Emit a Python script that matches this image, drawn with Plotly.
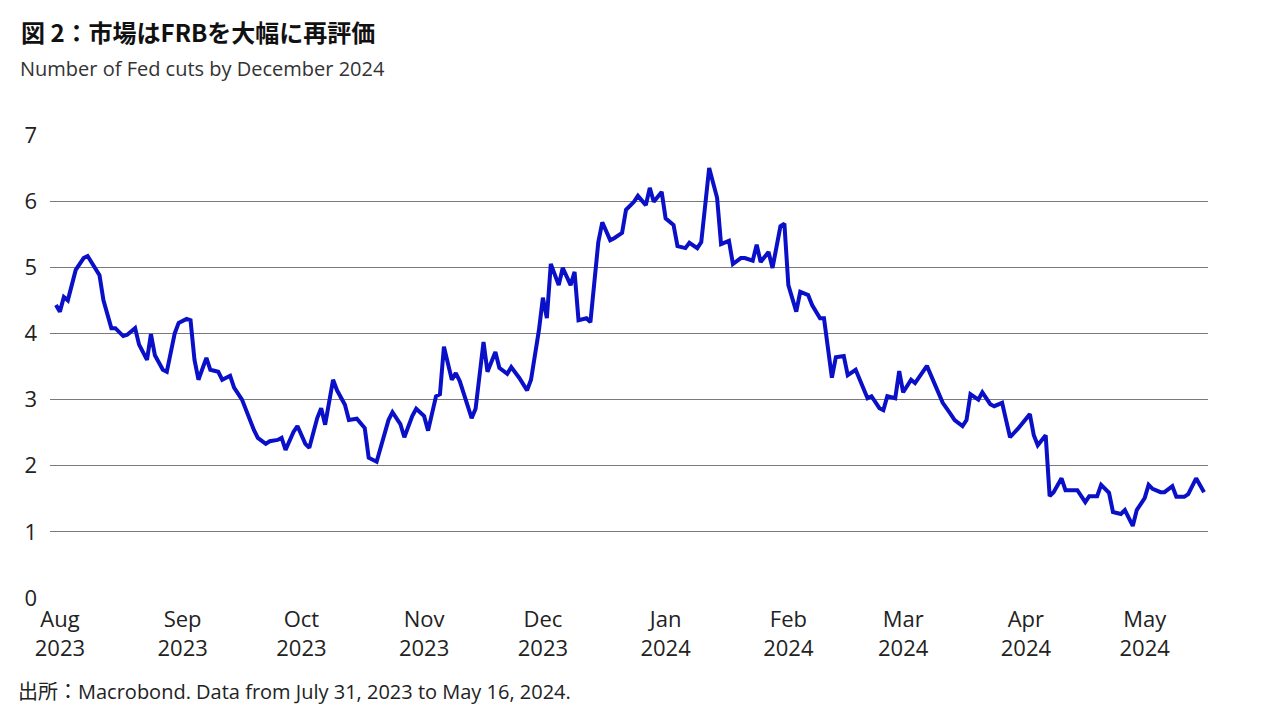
import plotly.graph_objects as go

dates = ["2023-07-31","2023-08-01","2023-08-02","2023-08-03","2023-08-05","2023-08-07","2023-08-08","2023-08-10","2023-08-11","2023-08-12",
"2023-08-14","2023-08-15","2023-08-17","2023-08-18","2023-08-20","2023-08-21","2023-08-23","2023-08-24","2023-08-25","2023-08-27",
"2023-08-28","2023-08-30","2023-08-31","2023-09-02","2023-09-03","2023-09-04","2023-09-05","2023-09-07","2023-09-08","2023-09-10",
"2023-09-11","2023-09-13","2023-09-14","2023-09-16","2023-09-17","2023-09-19","2023-09-20","2023-09-22","2023-09-23","2023-09-25",
"2023-09-26","2023-09-27","2023-09-29","2023-09-30","2023-10-02","2023-10-03","2023-10-05","2023-10-06","2023-10-07","2023-10-09",
"2023-10-10","2023-10-12","2023-10-13","2023-10-15","2023-10-17","2023-10-18","2023-10-20","2023-10-21","2023-10-23","2023-10-24",
"2023-10-26","2023-10-27","2023-10-29","2023-10-30","2023-11-01","2023-11-02","2023-11-04","2023-11-05","2023-11-06","2023-11-08",
"2023-11-09","2023-11-10","2023-11-12","2023-11-13","2023-11-14","2023-11-16","2023-11-17","2023-11-19","2023-11-20","2023-11-22",
"2023-11-23","2023-11-25","2023-11-27","2023-11-28","2023-11-30","2023-12-01","2023-12-02","2023-12-03","2023-12-05","2023-12-06",
"2023-12-08","2023-12-09","2023-12-10","2023-12-12","2023-12-13","2023-12-15","2023-12-16","2023-12-18","2023-12-19","2023-12-21",
"2023-12-22","2023-12-24","2023-12-25","2023-12-27","2023-12-28","2023-12-29","2023-12-31","2024-01-01","2024-01-03","2024-01-04",
"2024-01-06","2024-01-07","2024-01-09","2024-01-10","2024-01-11","2024-01-12","2024-01-14","2024-01-15","2024-01-17","2024-01-18",
"2024-01-20","2024-01-21","2024-01-23","2024-01-24","2024-01-25","2024-01-27","2024-01-28","2024-01-30","2024-01-31","2024-02-01",
"2024-02-03","2024-02-04","2024-02-06","2024-02-07","2024-02-09","2024-02-10","2024-02-12","2024-02-13","2024-02-15","2024-02-16",
"2024-02-18","2024-02-19","2024-02-21","2024-02-22","2024-02-24","2024-02-25","2024-02-26","2024-02-28","2024-02-29","2024-03-01",
"2024-03-03","2024-03-04","2024-03-06","2024-03-07","2024-03-08","2024-03-10","2024-03-11","2024-03-13","2024-03-14","2024-03-16",
"2024-03-17","2024-03-18","2024-03-20","2024-03-21","2024-03-23","2024-03-24","2024-03-26","2024-03-27","2024-03-28","2024-03-30",
"2024-03-31","2024-04-02","2024-04-03","2024-04-04","2024-04-06","2024-04-07","2024-04-08","2024-04-10","2024-04-11","2024-04-13",
"2024-04-14","2024-04-16","2024-04-17","2024-04-19","2024-04-20","2024-04-22","2024-04-23","2024-04-25","2024-04-26","2024-04-28",
"2024-04-29","2024-05-01","2024-05-02","2024-05-03","2024-05-05","2024-05-06","2024-05-08","2024-05-09","2024-05-11","2024-05-12",
"2024-05-14","2024-05-16"]

cuts = [4.43,4.33,4.55,4.50,4.96,5.14,5.17,4.99,4.88,4.50,
4.08,4.08,3.96,3.98,4.08,3.83,3.60,3.99,3.67,3.45,
3.42,4.00,4.16,4.22,4.20,3.60,3.30,3.63,3.45,3.42,
3.30,3.36,3.18,3.00,2.84,2.54,2.42,2.33,2.37,2.39,
2.42,2.24,2.51,2.60,2.33,2.27,2.72,2.87,2.62,3.30,
3.14,2.92,2.69,2.71,2.57,2.12,2.06,2.27,2.69,2.81,
2.63,2.43,2.75,2.86,2.75,2.53,3.05,3.08,3.80,3.30,
3.40,3.28,2.92,2.72,2.86,3.87,3.42,3.72,3.48,3.39,
3.49,3.33,3.14,3.30,4.05,4.54,4.23,5.05,4.73,4.99,
4.73,4.93,4.20,4.23,4.17,5.38,5.68,5.41,5.44,5.52,
5.87,5.99,6.08,5.94,6.20,5.99,6.14,5.74,5.64,5.32,
5.29,5.37,5.29,5.38,5.94,6.50,6.05,5.35,5.40,5.05,
5.14,5.14,5.10,5.34,5.08,5.23,4.99,5.62,5.66,4.73,
4.33,4.63,4.58,4.43,4.23,4.23,3.33,3.64,3.66,3.37,
3.45,3.30,3.02,3.05,2.87,2.84,3.05,3.02,3.43,3.11,
3.30,3.25,3.42,3.51,3.37,3.10,2.95,2.78,2.69,2.60,
2.69,3.08,3.00,3.11,2.93,2.90,2.95,2.69,2.43,2.56,
2.63,2.78,2.46,2.31,2.46,1.54,1.60,1.81,1.63,1.63,
1.63,1.45,1.54,1.54,1.71,1.59,1.30,1.27,1.33,1.09,
1.33,1.51,1.71,1.65,1.60,1.60,1.69,1.53,1.53,1.57,
1.81,1.60]

tick_vals = ["2023-08-01","2023-09-01","2023-10-01","2023-11-01","2023-12-01","2024-01-01",
             "2024-02-01","2024-03-01","2024-04-01","2024-05-01"]
tick_text = ["Aug<br>2023","Sep<br>2023","Oct<br>2023","Nov<br>2023","Dec<br>2023","Jan<br>2024",
             "Feb<br>2024","Mar<br>2024","Apr<br>2024","May<br>2024"]

FONT = "Open Sans, Noto Sans CJK JP, sans-serif"
fig = go.Figure(go.Scatter(x=dates, y=cuts, mode="lines",
                           line=dict(color="#0a0fc8", width=4), hoverinfo="x+y"))
fig.update_layout(
    width=1280, height=720, paper_bgcolor="white", plot_bgcolor="white",
    margin=dict(l=42, r=80, t=127, b=130), showlegend=False,
    font=dict(family=FONT, color="#222", size=22),
    xaxis=dict(range=["2023-07-29 12:00", "2024-05-17"], tickvals=tick_vals, ticktext=tick_text,
               showgrid=False, showline=False, ticks="", tickfont=dict(size=22),
               ticklabelstandoff=6),
    yaxis=dict(range=[0, 7], dtick=1, showgrid=True, gridcolor="#7a7a7a", gridwidth=1.3,
               zeroline=False, showline=False, ticks="", tickfont=dict(size=22),
               ticklabelstandoff=12),
    shapes=[dict(type="line", xref="paper", yref="paper", x0=-0.04, x1=1.08, y0=1.281, y1=1.281,
                 line=dict(color="#444", width=1))],
    annotations=[
        dict(text="<b>図 2：市場はFRBを大幅に再評価</b>", xref="paper", yref="paper", x=-0.027, y=1.2225,
             xanchor="left", yanchor="middle", showarrow=False,
             font=dict(size=24, color="#111", family="Noto Sans CJK JP")),
        dict(text="Number of Fed cuts by December 2024", xref="paper", yref="paper", x=-0.028, y=1.1447,
             xanchor="left", yanchor="middle", showarrow=False, font=dict(size=20, color="#333")),
        dict(text="出所：Macrobond. Data from July 31, 2023 to May 16, 2024.", xref="paper", yref="paper",
             x=-0.029, y=-0.203, xanchor="left", yanchor="middle", showarrow=False,
             font=dict(size=20, color="#222")),
    ],
)
fig.write_html("out.html")
